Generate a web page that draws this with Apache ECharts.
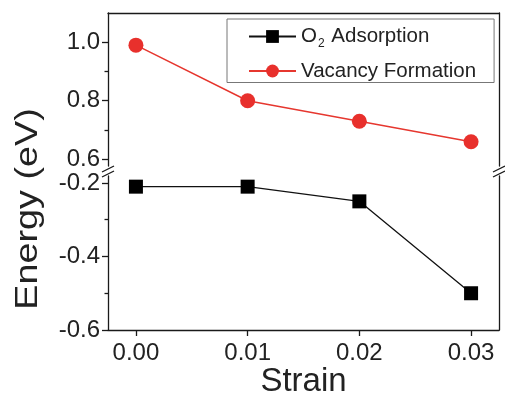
<!DOCTYPE html>
<html>
<head>
<meta charset="utf-8">
<script src="https://cdn.jsdelivr.net/npm/echarts@6.0.0/dist/echarts.min.js"></script>
<style>
  html, body { margin: 0; padding: 0; background: #fff; }
  #chart { width: 505px; height: 395px; }
</style>
</head>
<body>
<div id="chart"></div>
<script>
// data
const strain = [0, 0.01, 0.02, 0.03]
const o2Adsorption = [-0.21, -0.21, -0.25, -0.50]
const vacancyFormation = [0.99, 0.80, 0.73, 0.66]

// tick labels
const xTicks = [0, 0.01, 0.02, 0.03]
const yTicksTop = [0.6, 0.8, 1.0]
const yMinorTop = [0.7, 0.9]
const yTicksBottom = [-0.6, -0.4, -0.2]
const yMinorBottom = [-0.5, -0.3]

const FONT = 'Liberation Sans, Arial, sans-serif'

// broken y axis -> two grids, same x range
const xRange = [-0.0025, 0.0325]
const topRange = [0.5769, 1.1]
const bottomRange = [-0.6, -0.181]

const lineColor = '#1a1a1a'

function frameAxis (extra) {
  return Object.assign({
    type: 'value',
    axisLine: { show: true, onZero: false, lineStyle: { color: lineColor, width: 1.3 } },
    axisTick: { show: false },
    axisLabel: { show: false },
    splitLine: { show: false }
  }, extra)
}

function labelYAxis (grid, range, ticks) {
  return {
    type: 'value',
    gridIndex: grid,
    position: 'left',
    min: range[0],
    max: range[1],
    axisLine: { show: true, onZero: false, lineStyle: { color: lineColor, width: 1.3 } },
    axisTick: { show: true, length: 6, customValues: ticks, lineStyle: { color: lineColor, width: 1.3 } },
    axisLabel: {
      customValues: ticks,
      margin: 8,
      fontSize: 24,
      fontFamily: FONT,
      color: '#222',
      formatter: v => v.toFixed(1)
    },
    splitLine: { show: false }
  }
}

function minorYAxis (grid, range, ticks) {
  return {
    type: 'value',
    gridIndex: grid,
    position: 'left',
    min: range[0],
    max: range[1],
    axisLine: { show: false, onZero: false },
    axisTick: { show: true, length: 3.5, customValues: ticks, lineStyle: { color: lineColor, width: 1.3 } },
    axisLabel: { show: false },
    splitLine: { show: false }
  }
}

const chart = echarts.init(document.getElementById('chart'), null, { renderer: 'canvas' })

chart.setOption({
  animation: false,
  backgroundColor: '#fff',
  grid: [
    { left: 108, top: 13, width: 391, height: 153, containLabel: false, outerBoundsMode: 'none' },
    { left: 108, top: 176, width: 391, height: 154, containLabel: false, outerBoundsMode: 'none' }
  ],
  legend: {
    orient: 'vertical',
    left: 227,
    top: 19,
    data: ['O2 Adsorption', 'Vacancy Formation'],
    backgroundColor: '#fff',
    borderColor: '#777',
    borderWidth: 1,
    padding: [7, 18, 1, 21],
    itemWidth: 47,
    itemHeight: 16,
    itemGap: 11,
    textStyle: {
      fontSize: 20.5,
      fontFamily: FONT,
      color: '#222',
      rich: {
        n: { fontSize: 20.5, fontFamily: FONT, color: '#222' },
        s: { fontSize: 12, fontFamily: FONT, color: '#222', padding: [14, 1, 0, 1] }
      }
    },
    formatter: name => name === 'O2 Adsorption' ? '{n|O}{s|2}{n| Adsorption}' : name
  },
  xAxis: [
    frameAxis({ gridIndex: 0, position: 'top', min: xRange[0], max: xRange[1] }),
    {
      type: 'value',
      gridIndex: 1,
      position: 'bottom',
      min: xRange[0],
      max: xRange[1],
      name: 'Strain',
      nameLocation: 'middle',
      nameGap: 35,
      nameTextStyle: { fontSize: 33, fontFamily: FONT, color: '#222' },
      axisLine: { show: true, onZero: false, lineStyle: { color: lineColor, width: 1.3 } },
      axisTick: { show: true, length: 6, customValues: xTicks, lineStyle: { color: lineColor, width: 1.3 } },
      axisLabel: {
        customValues: xTicks,
        margin: 11,
        fontSize: 24,
        fontFamily: FONT,
        color: '#222',
        formatter: v => v.toFixed(2)
      },
      splitLine: { show: false }
    }
  ],
  yAxis: [
    labelYAxis(0, topRange, yTicksTop),
    minorYAxis(0, topRange, yMinorTop),
    frameAxis({ gridIndex: 0, position: 'right', min: topRange[0], max: topRange[1] }),
    labelYAxis(1, bottomRange, yTicksBottom),
    minorYAxis(1, bottomRange, yMinorBottom),
    frameAxis({ gridIndex: 1, position: 'right', min: bottomRange[0], max: bottomRange[1] })
  ],
  series: [
    {
      name: 'O2 Adsorption',
      type: 'line',
      xAxisIndex: 1,
      yAxisIndex: 3,
      data: strain.map((x, i) => [x, o2Adsorption[i]]),
      symbol: 'rect',
      symbolSize: 14,
      itemStyle: { color: '#000' },
      lineStyle: { color: '#111', width: 1.3 }
    },
    {
      name: 'Vacancy Formation',
      type: 'line',
      xAxisIndex: 0,
      yAxisIndex: 0,
      data: strain.map((x, i) => [x, vacancyFormation[i]]),
      symbol: 'circle',
      symbolSize: 15,
      itemStyle: { color: '#e8302c' },
      lineStyle: { color: '#e6372f', width: 1.5 }
    }
  ],
  graphic: [
    {
      type: 'text',
      x: 28,
      y: 209,
      rotation: Math.PI / 2,
      scaleX: 1.18,
      style: {
        text: 'Energy (eV)',
        font: '32px ' + FONT,
        fill: '#222',
        align: 'center',
        verticalAlign: 'middle'
      }
    },
    // axis break marks
    { type: 'line', shape: { x1: 102, y1: 172, x2: 114, y2: 166 }, style: { stroke: lineColor, lineWidth: 1.3 } },
    { type: 'line', shape: { x1: 102, y1: 177, x2: 114, y2: 171 }, style: { stroke: lineColor, lineWidth: 1.3 } },
    { type: 'line', shape: { x1: 493, y1: 172, x2: 505, y2: 166 }, style: { stroke: lineColor, lineWidth: 1.3 } },
    { type: 'line', shape: { x1: 493, y1: 177, x2: 505, y2: 171 }, style: { stroke: lineColor, lineWidth: 1.3 } }
  ]
})

window.addEventListener('resize', chart.resize)
</script>
</body>
</html>
